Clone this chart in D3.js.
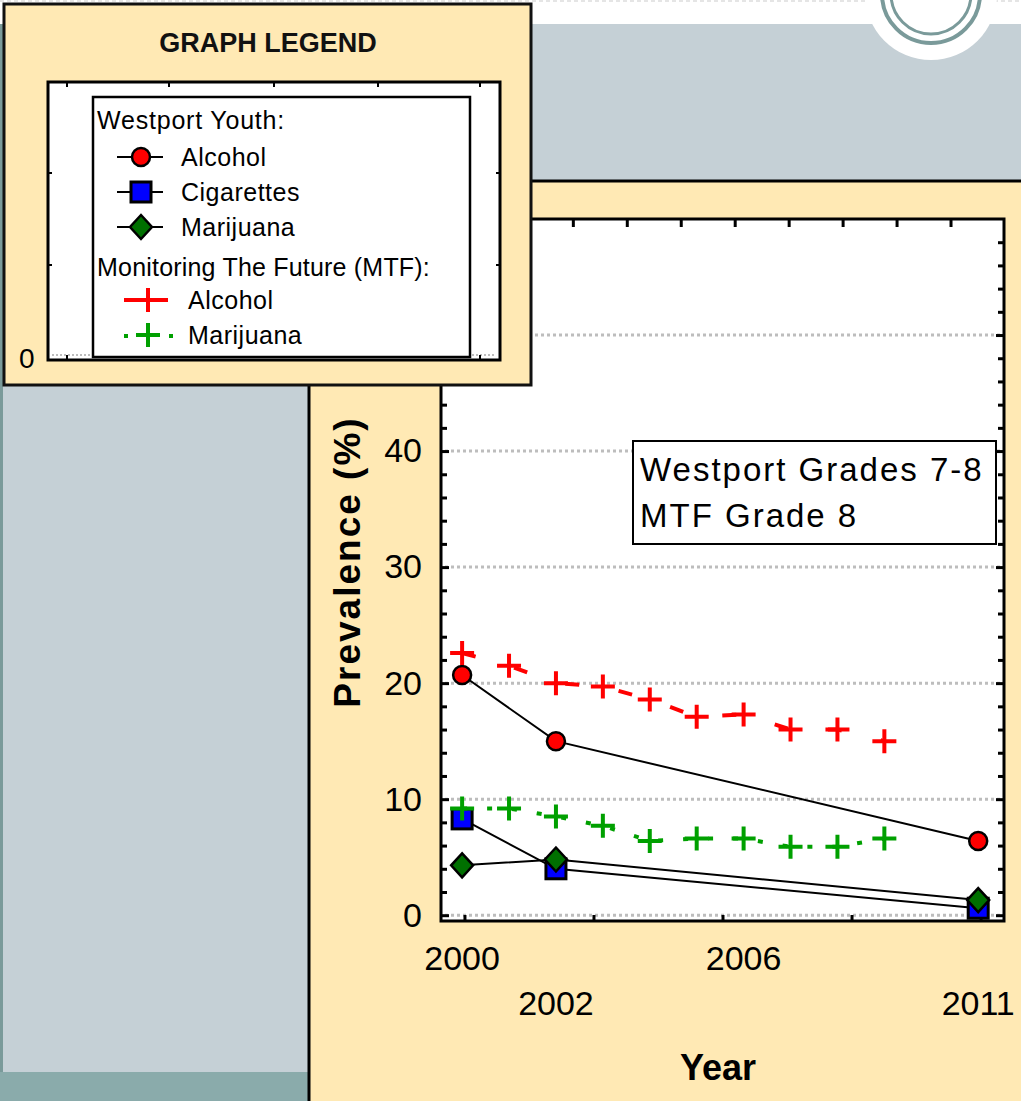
<!DOCTYPE html>
<html>
<head>
<meta charset="utf-8">
<script src="https://cdn.jsdelivr.net/npm/d3@7"></script>
<style>
  html, body { margin: 0; padding: 0; background: #fff; }
  svg { display: block; font-family: "Liberation Sans", Arial, sans-serif; }
</style>
</head>
<body>
<svg id="chart" width="1021" height="1101"></svg>
<script>
// Westport youth survey years + values (%)
var wpYears      = [2000, 2002, 2011]
var wpAlcohol    = [20.7, 15.0, 6.4]
var wpCigarettes = [8.3, 4.0, 0.6]
var wpMarijuana  = [4.3, 4.8, 1.3]

// Monitoring The Future, grade 8
var mtfYears     = [2000, 2001, 2002, 2003, 2004, 2005, 2006, 2007, 2008, 2009]
var mtfAlcohol   = [22.6, 21.5, 20.0, 19.7, 18.6, 17.1, 17.3, 16.0, 16.0, 15.0]
var mtfMarijuana = [9.2, 9.2, 8.5, 7.7, 6.4, 6.6, 6.6, 5.9, 5.9, 6.6]

// axis ticks / labels
var yMajor = [0, 10, 20, 30, 40, 50]
var yMinor = [2, 4, 6, 8, 12, 14, 16, 18, 22, 24, 26, 28, 32, 34, 36, 38, 42, 44, 46, 48, 52, 54, 56, 58]
var xTicksBottom = [2000.05, 2002.8, 2005.55, 2008.3, 2011.05]
var xTicksTop = [2000.06, 2001.21, 2002.36, 2003.51, 2004.66, 2005.81, 2006.96, 2008.11, 2009.26, 2010.41]
var xLabelsUpper = [2000, 2006]
var xLabelsLower = [2002, 2011]

var svg = d3.select("#chart")

var BEIGE = "#FFE9B4", SLATE = "#C5D0D6", TEAL = "#7A9A9A"

//---- slide background
svg.append("rect").attr("x", 0).attr("y", 0).attr("width", 1021).attr("height", 1101).attr("fill", "#fff")
svg.append("line").attr("x1", 0).attr("x2", 1021).attr("y1", 1).attr("y2", 1)
  .attr("stroke", "#ddd").attr("stroke-width", 1.5).attr("stroke-dasharray", "4,3")
svg.append("rect").attr("x", 0).attr("y", 24).attr("width", 1021).attr("height", 1077).attr("fill", SLATE)
svg.append("rect").attr("x", 0).attr("y", 24).attr("width", 3).attr("height", 1077).attr("fill", TEAL)
svg.append("rect").attr("x", 0).attr("y", 1072).attr("width", 310).attr("height", 29).attr("fill", "#8AABAB")

// circle ornament top right
svg.append("circle").attr("cx", 931).attr("cy", -6).attr("r", 66).attr("fill", "#fff")
svg.append("circle").attr("cx", 931).attr("cy", -6).attr("r", 49)
  .attr("fill", "none").attr("stroke", TEAL).attr("stroke-width", 4)
svg.append("circle").attr("cx", 931).attr("cy", -6).attr("r", 40)
  .attr("fill", "none").attr("stroke", TEAL).attr("stroke-width", 3)

//---- chart panel
svg.append("rect").attr("x", 309).attr("y", 181).attr("width", 714).attr("height", 922)
  .attr("fill", BEIGE).attr("stroke", "#000").attr("stroke-width", 3)

var margin = {left: 441, top: 219, right: 1004, bottom: 921}

var x = d3.scaleLinear().domain([1999.55, 2011.55]).range([margin.left, margin.right])
var y = d3.scaleLinear().domain([-0.5, 60]).range([margin.bottom, margin.top])

svg.append("rect")
  .attr("x", margin.left).attr("y", margin.top)
  .attr("width", margin.right - margin.left).attr("height", margin.bottom - margin.top)
  .attr("fill", "#fff")

// dotted gridlines
svg.append("g").selectAll("line")
  .data(yMajor)
  .enter().append("line")
    .attr("x1", margin.left + 4).attr("x2", margin.right - 4)
    .attr("y1", function(d) { return y(d) }).attr("y2", function(d) { return y(d) })
    .attr("stroke", "#BDBDBD").attr("stroke-width", 3).attr("stroke-dasharray", "3,3")

// axes (ticks point inward)
function noDomain(g) { g.select(".domain").remove() }

svg.append("g").attr("transform", "translate(" + margin.left + ",0)")
  .call(d3.axisLeft(y).tickValues(yMinor).tickSize(-6).tickFormat("")).call(noDomain)
svg.append("g").attr("transform", "translate(" + margin.left + ",0)")
  .call(d3.axisLeft(y).tickValues(yMajor).tickSize(-8).tickPadding(19)).call(noDomain)
  .selectAll("text").attr("font-size", 34).attr("font-family", "Liberation Sans, Arial, sans-serif").attr("fill", "#000")
svg.append("g").attr("transform", "translate(" + margin.right + ",0)")
  .call(d3.axisRight(y).tickValues(yMinor).tickSize(-6).tickFormat("")).call(noDomain)
svg.append("g").attr("transform", "translate(" + margin.right + ",0)")
  .call(d3.axisRight(y).tickValues(yMajor).tickSize(-8).tickFormat("")).call(noDomain)
svg.append("g").attr("transform", "translate(0," + margin.bottom + ")")
  .call(d3.axisBottom(x).tickValues(xTicksBottom).tickSize(-6).tickFormat("")).call(noDomain)
svg.append("g").attr("transform", "translate(0," + margin.top + ")")
  .call(d3.axisTop(x).tickValues(xTicksTop).tickSize(-8).tickFormat("")).call(noDomain)
svg.selectAll(".tick line").attr("stroke", "#000").attr("stroke-width", 3)

svg.append("rect")
  .attr("x", margin.left).attr("y", margin.top)
  .attr("width", margin.right - margin.left).attr("height", margin.bottom - margin.top)
  .attr("fill", "none").attr("stroke", "#000").attr("stroke-width", 3)

// staggered year labels
svg.append("g").selectAll("text").data(xLabelsUpper).enter().append("text")
  .attr("x", function(d) { return x(d) }).attr("y", 970)
  .attr("text-anchor", "middle").attr("font-size", 34).text(function(d) { return d })
svg.append("g").selectAll("text").data(xLabelsLower).enter().append("text")
  .attr("x", function(d) { return x(d) }).attr("y", 1015)
  .attr("text-anchor", "middle").attr("font-size", 34).text(function(d) { return d })

svg.append("text").attr("x", 718).attr("y", 1080).attr("text-anchor", "middle")
  .attr("font-size", 36).attr("font-weight", "bold").text("Year")
svg.append("text").attr("transform", "translate(360,562) rotate(-90)").attr("text-anchor", "middle")
  .attr("font-size", 37).attr("font-weight", "bold").attr("letter-spacing", 2).text("Prevalence (%)")

//---- series
function pts(xs, vs) { return xs.map(function(d, i) { return {year: d, v: vs[i]} }) }

var line = d3.line().x(function(d) { return x(d.year) }).y(function(d) { return y(d.v) })

var wpSeries = [
  {data: pts(wpYears, wpAlcohol), fill: "#FF0000", shape: "circle"},
  {data: pts(wpYears, wpCigarettes), fill: "#0000FF", shape: "square"},
  {data: pts(wpYears, wpMarijuana), fill: "#007000", shape: "diamond"}
]
var mtfSeries = [
  {data: pts(mtfYears, mtfAlcohol), color: "#FF0000", dash: "14,40"},
  {data: pts(mtfYears, mtfMarijuana), color: "#00A000", dash: "5,20"}
]

wpSeries.forEach(function(s) {
  svg.append("path").datum(s.data).attr("d", line)
    .attr("fill", "none").attr("stroke", "#000").attr("stroke-width", 2)
})

function drawMarker(g, shape, fill, cx, cy) {
  if (shape == "circle") {
    g.append("circle").attr("cx", cx).attr("cy", cy).attr("r", 9)
      .attr("fill", fill).attr("stroke", "#000").attr("stroke-width", 2.5)
  } else if (shape == "square") {
    g.append("rect").attr("x", cx - 10).attr("y", cy - 10).attr("width", 20).attr("height", 20)
      .attr("fill", fill).attr("stroke", "#000").attr("stroke-width", 3)
  } else {
    g.append("path").attr("d", "M" + cx + "," + (cy - 12) + "L" + (cx + 11) + "," + cy + "L" + cx + "," + (cy + 12) + "L" + (cx - 11) + "," + cy + "Z")
      .attr("fill", fill).attr("stroke", "#000").attr("stroke-width", 2.5)
  }
}
function drawPlus(g, color, cx, cy) {
  g.append("path").attr("d", "M" + (cx - 12) + "," + cy + "H" + (cx + 12) + "M" + cx + "," + (cy - 12) + "V" + (cy + 12))
    .attr("stroke", color).attr("stroke-width", 4).attr("fill", "none")
}

var markers = svg.append("g")
wpSeries.forEach(function(s) {
  s.data.forEach(function(d) { drawMarker(markers, s.shape, s.fill, x(d.year), y(d.v)) })
})

mtfSeries.forEach(function(s) {
  svg.append("path").datum(s.data).attr("d", line)
    .attr("fill", "none").attr("stroke", s.color).attr("stroke-width", 4).attr("stroke-dasharray", s.dash)
  var g = svg.append("g")
  s.data.forEach(function(d) { drawPlus(g, s.color, x(d.year), y(d.v)) })
})

// inset caption
svg.append("rect").attr("x", 633).attr("y", 441).attr("width", 363).attr("height", 103)
  .attr("fill", "#fff").attr("stroke", "#000").attr("stroke-width", 2)
svg.append("text").attr("x", 640).attr("y", 481).attr("font-size", 33).attr("letter-spacing", 2).text("Westport Grades 7-8")
svg.append("text").attr("x", 640).attr("y", 527).attr("font-size", 33).attr("letter-spacing", 2).text("MTF Grade 8")

//---- graph legend panel
var lg = svg.append("g")
lg.append("rect").attr("x", 4).attr("y", 4).attr("width", 527).attr("height", 381)
  .attr("fill", BEIGE).attr("stroke", "#111").attr("stroke-width", 3)
lg.append("text").attr("x", 268).attr("y", 52).attr("text-anchor", "middle")
  .attr("font-size", 27).attr("font-weight", "bold").attr("fill", "#111").text("GRAPH LEGEND")

// miniature plot behind the legend
lg.append("rect").attr("x", 48).attr("y", 82).attr("width", 452).attr("height", 278).attr("fill", "#fff")
lg.append("line").attr("x1", 52).attr("x2", 496).attr("y1", 355).attr("y2", 355)
  .attr("stroke", "#BDBDBD").attr("stroke-width", 2).attr("stroke-dasharray", "2,2")
lg.append("rect").attr("x", 48).attr("y", 82).attr("width", 452).attr("height", 278)
  .attr("fill", "none").attr("stroke", "#000").attr("stroke-width", 3)
;[67, 169, 274, 378, 480].forEach(function(t) {
  lg.append("line").attr("x1", t).attr("x2", t).attr("y1", 82).attr("y2", 87).attr("stroke", "#000").attr("stroke-width", 2)
})
;[67, 480].forEach(function(t) {
  lg.append("line").attr("x1", t).attr("x2", t).attr("y1", 360).attr("y2", 355).attr("stroke", "#000").attr("stroke-width", 2)
})
;[173, 265].forEach(function(t) {
  lg.append("line").attr("x1", 48).attr("x2", 52).attr("y1", t).attr("y2", t).attr("stroke", "#000").attr("stroke-width", 2)
  lg.append("line").attr("x1", 496).attr("x2", 500).attr("y1", t).attr("y2", t).attr("stroke", "#000").attr("stroke-width", 2)
})
lg.append("text").attr("x", 19).attr("y", 368).attr("font-size", 28).text("0")

lg.append("rect").attr("x", 93).attr("y", 97).attr("width", 377).attr("height", 260)
  .attr("fill", "#fff").attr("stroke", "#000").attr("stroke-width", 2.5)

var legendFont = 25
lg.append("text").attr("x", 97).attr("y", 129).attr("font-size", legendFont).attr("letter-spacing", 0.8).text("Westport Youth:")
var wpNames = ["Alcohol", "Cigarettes", "Marijuana"]
wpSeries.forEach(function(s, i) {
  var cy = 157 + i * 35
  lg.append("line").attr("x1", 117).attr("x2", 163).attr("y1", cy).attr("y2", cy).attr("stroke", "#000").attr("stroke-width", 2)
  drawMarker(lg, s.shape, s.fill, 141, cy)
  lg.append("text").attr("x", 181).attr("y", cy + 9).attr("font-size", legendFont).attr("letter-spacing", 0.5).text(wpNames[i])
})
lg.append("text").attr("x", 97).attr("y", 276).attr("font-size", legendFont).attr("letter-spacing", 0.2).text("Monitoring The Future (MTF):")
var mtfNames = ["Alcohol", "Marijuana"]
mtfSeries.forEach(function(s, i) {
  var cy = 300 + i * 35
  if (i == 0) {
    lg.append("line").attr("x1", 124).attr("x2", 168).attr("y1", cy).attr("y2", cy).attr("stroke", s.color).attr("stroke-width", 4)
  } else {
    lg.append("line").attr("x1", 124).attr("x2", 128).attr("y1", cy + 1).attr("y2", cy + 1).attr("stroke", s.color).attr("stroke-width", 4)
    lg.append("line").attr("x1", 169).attr("x2", 173).attr("y1", cy + 1).attr("y2", cy + 1).attr("stroke", s.color).attr("stroke-width", 4)
  }
  drawPlus(lg, s.color, 148, cy)
  lg.append("text").attr("x", 188).attr("y", cy + 9).attr("font-size", legendFont).attr("letter-spacing", 0.5).text(mtfNames[i])
})
</script>
</body>
</html>
